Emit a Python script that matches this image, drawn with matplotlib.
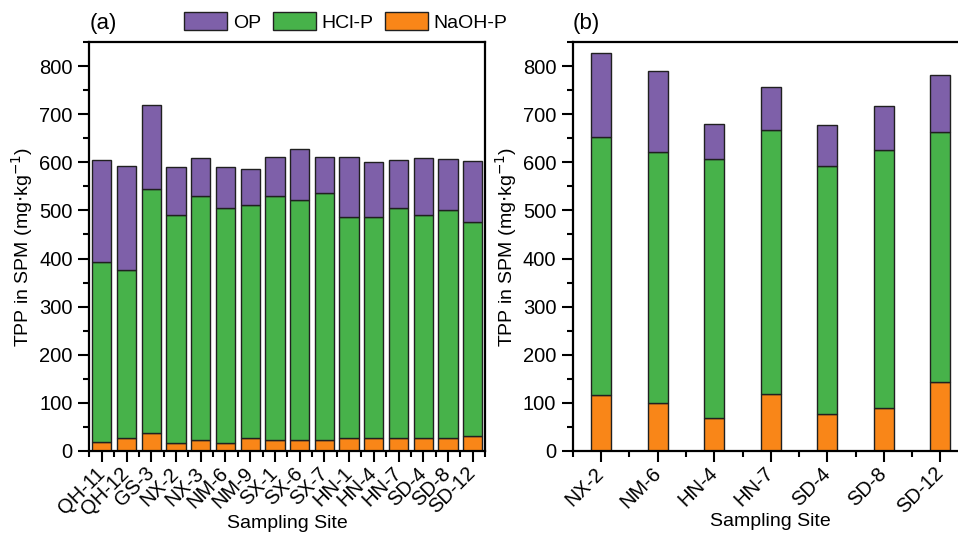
import matplotlib.pyplot as plt
import numpy as np
from matplotlib.transforms import ScaledTranslation
from matplotlib.patches import Patch

plt.rcParams['font.family'] = ['Liberation Sans', 'DejaVu Sans']
plt.rcParams['font.size'] = 14

# === Daten (a) ===
sites_a = ["QH-11", "QH-12", "GS-3", "NX-2", "NX-3", "NM-6", "NM-9", "SX-1",
           "SX-6", "SX-7", "HN-1", "HN-4", "HN-7", "SD-4", "SD-8", "SD-12"]
naoh_a = [18, 26, 37, 17, 22, 17, 26, 22, 22, 22, 26, 26, 26, 26, 26, 32]
hcl_a  = [374, 350, 508, 473, 509, 489, 485, 509, 499, 514, 460, 460, 480, 464, 474, 443]
op_a   = [213, 216, 175, 101, 78, 84, 76, 80, 106, 76, 126, 114, 98, 118, 106, 127]

# === Daten (b) ===
sites_b = ["NX-2", "NM-6", "HN-4", "HN-7", "SD-4", "SD-8", "SD-12"]
naoh_b = [117, 100, 68, 119, 76, 89, 144]
hcl_b  = [535, 522, 538, 549, 516, 537, 519]
op_b   = [176, 168, 74, 89, 86, 92, 118]

# === Farben ===
c_op   = "#7E60A9"
c_hcl  = "#47B24A"
c_naoh = "#F98618"
edge   = "#202020"

ylabel = "TPP in SPM (mg$\\cdot$kg$^{-1}$)"

fig = plt.figure(figsize=(9.58, 5.36), dpi=100)
ax_a = fig.add_axes([0.0934, 0.1586, 0.4129, 0.763])
ax_b = fig.add_axes([0.5981, 0.1586, 0.4129, 0.763])


def draw_panel(ax, sites, naoh, hcl, op, width, tag):
    x = np.arange(len(sites))
    naoh = np.array(naoh)
    hcl = np.array(hcl)
    op = np.array(op)
    ax.bar(x, naoh, width=width, color=c_naoh, edgecolor=edge, linewidth=1)
    ax.bar(x, hcl, bottom=naoh, width=width, color=c_hcl, edgecolor=edge, linewidth=1)
    ax.bar(x, op, bottom=naoh + hcl, width=width, color=c_op, edgecolor=edge, linewidth=1)

    ax.set_xlim(-0.5, len(sites) - 0.5)
    ax.set_ylim(0, 847)
    ax.set_yticks(np.arange(0, 801, 100))
    ax.set_yticks(np.arange(50, 851, 100), minor=True)
    ax.set_xticks(x)
    ax.set_xticks(np.arange(-0.5, len(sites), 1), minor=True)
    ax.set_xticklabels(sites, rotation=45, ha='right', va='center', rotation_mode='anchor')
    for lab in ax.get_xticklabels():
        lab.set_transform(lab.get_transform() + ScaledTranslation(0.07, -0.07, fig.dpi_scale_trans))

    ax.tick_params(which='major', direction='out', length=8, width=1.5, labelsize=14.5)
    ax.tick_params(which='minor', direction='out', length=4, width=1.5)
    ax.tick_params(axis='y', which='major', pad=4)
    ax.tick_params(axis='x', which='major', pad=6)
    for s in ax.spines.values():
        s.set_linewidth(1.6)

    ax.set_ylabel(ylabel, fontsize=14, labelpad=3)
    ax.set_xlabel("Sampling Site", fontsize=14, labelpad=-3)
    ax.text(0.0, 1.02, tag, transform=ax.transAxes, fontsize=16, ha='left', va='bottom')


draw_panel(ax_a, sites_a, naoh_a, hcl_a, op_a, 0.78, "(a)")
draw_panel(ax_b, sites_b, naoh_b, hcl_b, op_b, 0.35, "(b)")

handles = [Patch(facecolor=c_op, edgecolor=edge, label="OP"),
           Patch(facecolor=c_hcl, edgecolor=edge, label="HCl-P"),
           Patch(facecolor=c_naoh, edgecolor=edge, label="NaOH-P")]
fig.legend(handles=handles, loc='center', bbox_to_anchor=(346 / 958, 1 - 22 / 536),
           ncol=3, frameon=False, fontsize=14, handlelength=2.2, handleheight=1.05,
           handletextpad=0.3, columnspacing=0.6, borderpad=0)

fig.savefig("out.png", dpi=100)
